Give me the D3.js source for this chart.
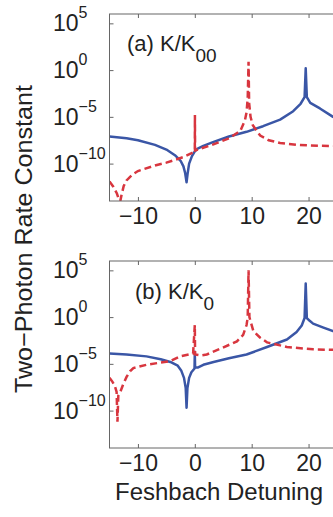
<!DOCTYPE html>
<html>
<head>
<meta charset="utf-8">
<script src="https://cdn.jsdelivr.net/npm/d3@7"></script>
<style>
body { margin: 0; background: #fff; }
text { font-family: "Liberation Sans", Arial, Helvetica, sans-serif; fill: #222; }
</style>
</head>
<body>
<script>
// tick values
var xTicks = [-10, 0, 10, 20];
var yTickExps = [5, 0, -5, -10];

// panel labels
var panelNames = ['(a) K/K', '(b)  K/K'];
var panelSubs = ['00', '0'];

// curves: [detuning, log10(rate)]
var blueA = [[-15,-7.1],[-12,-7.3],[-10,-7.5],[-7,-8.0],[-5,-8.5],[-3.5,-9.1],[-2.5,-9.7],[-2.0,-10.3],
	[-1.7,-11.0],[-1.45,-12.0],[-1.25,-11.0],[-1.0,-10.0],[-0.5,-9.2],[0,-8.7],[0.5,-8.4],[1.5,-8.1],
	[3.2,-7.7],[6,-7.1],[9.1,-6.6],[12,-6.0],[15,-5.3],[17.3,-4.4],[18.6,-3.6],[19.3,-2.9],[19.5,0.2],
	[19.7,-2.9],[20.3,-3.5],[22,-4.1],[24.3,-5.0],[28,-5.8]];
var redA = [[-15,-11.9],[-14.3,-12.5],[-13.7,-13.2],[-13.3,-13.9],[-13.1,-14.0],[-12.9,-13.4],[-12.5,-12.4],
	[-12,-11.8],[-11,-11.2],[-10,-10.8],[-7,-10.2],[-5,-9.9],[-2,-9.3],[-0.3,-8.8],[0,-8.6],[0.02,-4.8],
	[0.05,-8.6],[1,-8.4],[3,-8.0],[6,-7.3],[8,-6.5],[8.8,-5.4],[9.1,-4.5],[9.3,-3.0],[9.45,0.9],[9.55,-3.5],
	[9.8,-5.0],[10.2,-5.9],[11.5,-7.0],[13,-7.5],[15,-7.8],[18,-8.0],[22,-8.1],[28,-8.15]];
var blueB = [[-15,-3.9],[-12,-4.0],[-8.5,-4.2],[-6,-4.5],[-4.3,-4.8],[-3,-5.2],[-2.4,-5.7],[-1.9,-6.5],
	[-1.6,-7.6],[-1.45,-9.7],[-1.3,-7.6],[-1.0,-6.5],[-0.6,-5.9],[-0.05,-5.5],[0,-3.7],[0.05,-5.4],
	[0.5,-5.4],[1.5,-5.1],[3.3,-4.8],[6,-4.4],[9.1,-4.0],[12.7,-3.2],[16.2,-2.4],[17.9,-1.6],[18.8,-0.9],
	[19.3,-0.1],[19.5,3.6],[19.7,-0.1],[20.2,-0.4],[20.8,-0.7],[22.5,-1.1],[24.3,-1.5],[28,-2.0]];
var redB = [[-15,-6.5],[-14.5,-6.9],[-14.1,-7.3],[-13.75,-8.0],[-13.6,-11.2],[-13.45,-8.4],[-13.1,-8.0],
	[-12.6,-7.2],[-12.0,-6.4],[-11.4,-5.8],[-10.8,-5.45],[-8.5,-5.1],[-4.3,-4.7],[-2.6,-4.2],[-0.3,-3.9],
	[0,-0.85],[0.05,-4.0],[1,-4.1],[2.1,-4.0],[4.4,-3.4],[7.4,-2.6],[8.5,-1.9],[9.1,-0.85],[9.3,0.0],
	[9.45,5.0],[9.6,0.0],[10.3,-1.5],[11.5,-2.2],[12.7,-2.7],[16.2,-3.2],[20.8,-3.45],[24.3,-3.5],[28,-3.55]];

var svgWidth = 333;
var svgHeight = 517;
var blue = '#3a56a6';
var red = '#d8363f';

var svg = d3.select('body')
	.append('svg')
	.attr('width', svgWidth)
	.attr('height', svgHeight);

var x = d3.scaleLinear().domain([-15, 40]).range([109.5, 422.3]);

var panels = [
	{top: 14, bottom: 201, blue: blueA, red: redA, lx: 127, ly: 51},
	{top: 261, bottom: 448, blue: blueB, red: redB, lx: 135, ly: 299}
];

panels.forEach(function(p, i) {
	var y = d3.scaleLog().domain([1e-14, 1e6]).range([p.bottom, p.top]);
	var g = svg.append('g');

	g.append('clipPath')
		.attr('id', 'clip' + i)
		.append('rect')
		.attr('x', x(-15))
		.attr('y', p.top)
		.attr('width', x(40) - x(-15))
		.attr('height', p.bottom - p.top);

	var line = d3.line()
		.x(function(d) { return x(d[0]); })
		.y(function(d) { return y(Math.pow(10, d[1])); });

	g.append('path')
		.datum(p.blue)
		.attr('clip-path', 'url(#clip' + i + ')')
		.attr('d', line)
		.attr('fill', 'none')
		.attr('stroke', blue)
		.attr('stroke-width', 2.5)
		.attr('stroke-linejoin', 'round');

	g.append('path')
		.datum(p.red)
		.attr('clip-path', 'url(#clip' + i + ')')
		.attr('d', line)
		.attr('fill', 'none')
		.attr('stroke', red)
		.attr('stroke-width', 2.5)
		.attr('stroke-dasharray', '7,4');

	// box
	g.append('rect')
		.attr('x', x(-15))
		.attr('y', p.top)
		.attr('width', x(40) - x(-15))
		.attr('height', p.bottom - p.top)
		.attr('fill', 'none')
		.attr('stroke', '#666')
		.attr('stroke-width', 1);

	var bottomAxis = g.append('g')
		.attr('transform', 'translate(0,' + p.bottom + ')')
		.call(d3.axisBottom(x)
			.tickValues(xTicks)
			.tickSizeInner(-4)
			.tickSizeOuter(0)
			.tickPadding(7)
			.tickFormat(function(d) { return d < 0 ? '\u2212' + (-d) : d; }));
	bottomAxis.select('.domain').remove();
	bottomAxis.selectAll('line').attr('stroke', '#666');
	bottomAxis.selectAll('text')
		.attr('font-size', 23)
		.attr('font-family', '"Liberation Sans", Arial, sans-serif')
		.attr('fill', '#222');

	var topAxis = g.append('g')
		.attr('transform', 'translate(0,' + p.top + ')')
		.call(d3.axisTop(x).tickValues(xTicks).tickSizeInner(-4).tickSizeOuter(0).tickFormat(''));
	topAxis.select('.domain').remove();
	topAxis.selectAll('line').attr('stroke', '#666');

	var leftAxis = g.append('g')
		.attr('transform', 'translate(' + x(-15) + ',0)')
		.call(d3.axisLeft(y)
			.tickValues(yTickExps.map(function(e) { return Math.pow(10, e); }))
			.tickSizeInner(-4)
			.tickSizeOuter(0)
			.tickFormat(''));
	leftAxis.select('.domain').remove();
	leftAxis.selectAll('line').attr('stroke', '#666');

	// 10^n labels
	var lab = g.selectAll('text.ylab')
		.data(yTickExps)
		.enter()
		.append('text')
		.attr('class', 'ylab')
		.attr('x', 53)
		.attr('y', function(d) { return y(Math.pow(10, d)) + 8; })
		.attr('font-size', 23);
	lab.append('tspan').text('10');
	lab.append('tspan')
		.attr('font-size', 16)
		.attr('dy', -13)
		.text(function(d) { return d < 0 ? '\u2212' + (-d) : d; });

	// panel label
	var name = g.append('text')
		.attr('x', p.lx)
		.attr('y', p.ly)
		.attr('font-size', 22);
	name.append('tspan').text(panelNames[i]);
	name.append('tspan').attr('dy', 11).attr('font-size', 19).text(panelSubs[i]);
});

svg.append('text')
	.attr('transform', 'translate(32,239) rotate(-90)')
	.attr('text-anchor', 'middle')
	.attr('font-size', 24)
	.attr('textLength', 308)
	.attr('lengthAdjust', 'spacingAndGlyphs')
	.text('Two\u2212Photon Rate Constant');

svg.append('text')
	.attr('x', 115)
	.attr('y', 500)
	.attr('font-size', 23)
	.attr('textLength', 208)
	.attr('lengthAdjust', 'spacingAndGlyphs')
	.text('Feshbach Detuning');
</script>
</body>
</html>
